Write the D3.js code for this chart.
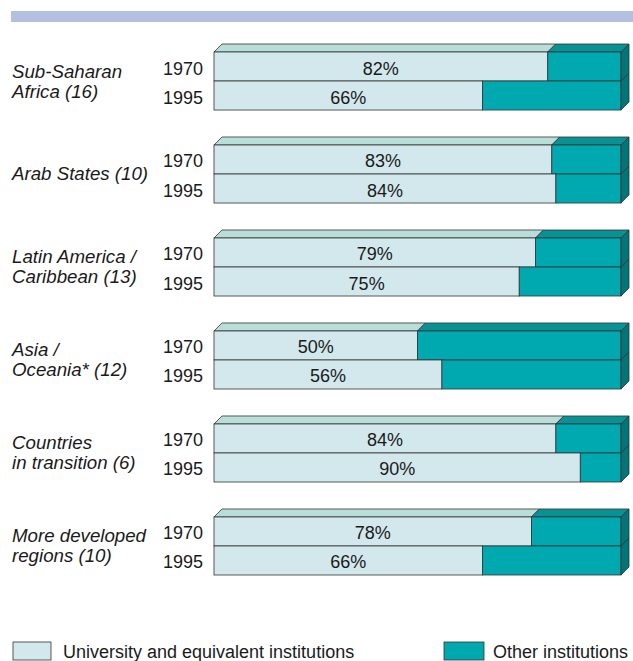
<!DOCTYPE html>
<html>
<head>
<meta charset="utf-8">
<script src="https://cdn.jsdelivr.net/npm/d3@7"></script>
<style>
  body { margin: 0; background: #fff; }
  text { font-family: "Liberation Sans", Arial, sans-serif; fill: #1a1a1a; }
</style>
</head>
<body>
<div id="chart"></div>
<script>
// share of enrolment in university and equivalent institutions (%)
var regions = [
  ["Sub-Saharan", "Africa (16)"],
  ["Arab States (10)"],
  ["Latin America /", "Caribbean (13)"],
  ["Asia /", "Oceania* (12)"],
  ["Countries", "in transition (6)"],
  ["More developed", "regions (10)"]
];
var years = ["1970", "1995"];
var univ1970 = [82, 83, 79, 50, 84, 78];
var univ1995 = [66, 84, 75, 56, 90, 66];
var legendLabels = ["University and equivalent institutions", "Other institutions"];

var width = 633, height = 661;
var depth = 8;

var colLight = "#d2e8ec", colLightTop = "#b9ddd9";
var colTeal = "#00a9af", colTealTop = "#089294", colSide = "#00757a";

var svg = d3.select("#chart").append("svg")
  .attr("width", width)
  .attr("height", height);

// header strip
svg.append("rect")
  .attr("x", 11).attr("y", 11)
  .attr("width", width - 11).attr("height", 11)
  .attr("fill", "#b4c0e0");

var x = d3.scaleLinear().domain([0, 100]).range([214, 621]);

var y = d3.scaleBand()
  .domain(d3.range(regions.length))
  .range([52, 575])
  .paddingInner(0.376)
  .paddingOuter(0);

var yy = d3.scaleBand().domain(years).range([0, y.bandwidth()]);

var data = regions.map(function(r, i) {
  return { label: r, vals: [univ1970[i], univ1995[i]] };
});

var g = svg.selectAll("g.group").data(data).enter().append("g")
  .attr("class", "group")
  .attr("transform", function(d, i) { return "translate(0," + y(i) + ")"; });

// region labels
g.each(function(d) {
  var t = d3.select(this).append("text")
    .attr("x", 12)
    .attr("font-size", 18.7)
    .attr("font-style", "italic");
  var n = d.label.length;
  d.label.forEach(function(line, k) {
    t.append("tspan")
      .attr("x", 12)
      .attr("y", y.bandwidth() / 2 + (k - (n - 1) / 2) * 20)
      .attr("dominant-baseline", "central")
      .text(line);
  });
});

var h = yy.bandwidth();

// top faces (only on the upper bar)
g.each(function(d) {
  var sel = d3.select(this);
  var v = d.vals[0];
  function topFace(a, b, fill) {
    sel.append("path")
      .attr("d", "M" + x(a) + ",0L" + (x(a) + depth) + "," + (-depth) +
        "L" + (x(b) + depth) + "," + (-depth) + "L" + x(b) + ",0Z")
      .attr("fill", fill).attr("stroke", "#333").attr("stroke-width", 0.8);
  }
  topFace(0, v, colLightTop);
  topFace(v, 100, colTealTop);
});

// bars
g.each(function(d) {
  var sel = d3.select(this);
  years.forEach(function(yr, k) {
    var v = d.vals[k];
    var y0 = yy(yr);
    sel.append("rect")
      .attr("x", x(0)).attr("y", y0)
      .attr("width", x(v) - x(0)).attr("height", h)
      .attr("fill", colLight).attr("stroke", "#333").attr("stroke-width", 0.8);
    sel.append("rect")
      .attr("x", x(v)).attr("y", y0)
      .attr("width", x(100) - x(v)).attr("height", h)
      .attr("fill", colTeal).attr("stroke", "#333").attr("stroke-width", 0.8);
    // right side face
    sel.append("path")
      .attr("d", "M" + x(100) + "," + y0 + "L" + (x(100) + depth) + "," + (y0 - depth) +
        "L" + (x(100) + depth) + "," + (y0 + h - depth) + "L" + x(100) + "," + (y0 + h) + "Z")
      .attr("fill", colSide).attr("stroke", "#333").attr("stroke-width", 0.8);
    sel.append("text")
      .attr("x", (x(0) + x(v)) / 2)
      .attr("y", y0 + h / 2 + 2)
      .attr("text-anchor", "middle")
      .attr("dominant-baseline", "central")
      .attr("font-size", 18)
      .text(v + "%");
    sel.append("text")
      .attr("x", 203)
      .attr("y", y0 + h / 2 + 2)
      .attr("text-anchor", "end")
      .attr("dominant-baseline", "central")
      .attr("font-size", 18)
      .text(yr);
  });
});

// legend
var legend = svg.append("g");
[[13, 63, colLight], [444, 493, colTeal]].forEach(function(p, i) {
  legend.append("rect")
    .attr("x", p[0]).attr("y", 642)
    .attr("width", i ? 40 : 38).attr("height", 18)
    .attr("fill", p[2]).attr("stroke", "#333").attr("stroke-width", 0.8);
  legend.append("text")
    .attr("x", p[1]).attr("y", 652)
    .attr("dominant-baseline", "central")
    .attr("font-size", 18)
    .text(legendLabels[i]);
});
</script>
</body>
</html>
